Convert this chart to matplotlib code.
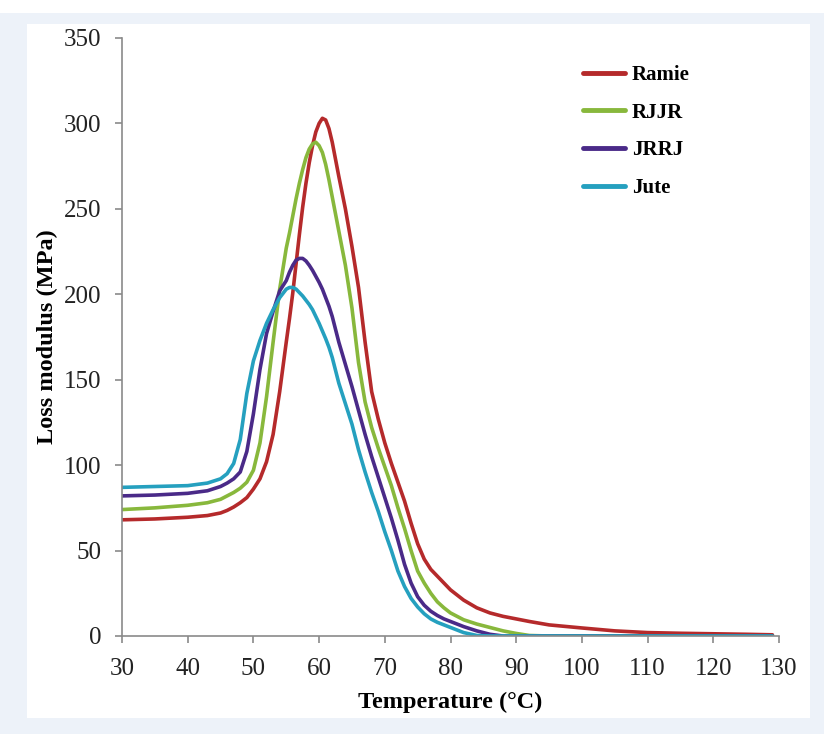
import matplotlib
matplotlib.use("Agg")
import matplotlib.pyplot as plt
from matplotlib.patches import Rectangle

plt.rcParams['font.family'] = ['Liberation Serif', 'DejaVu Serif']

temp = [30, 35, 40, 43, 45, 46, 47, 48, 49, 50, 51, 52, 53, 54, 55,
        55.5, 56, 56.5, 57, 57.5, 58, 58.5, 59, 59.5, 60, 60.5, 61, 61.5, 62,
        63, 64, 65, 66, 67, 68, 69, 70, 71, 72, 73, 74, 75, 76, 77, 78, 79, 80,
        82, 84, 86, 88, 90, 92, 95,
        100, 105, 110, 115, 120, 125, 129]

ramie = [68, 68.5, 69.5, 70.5, 72, 73.5, 75.5, 78, 81, 86, 92, 102, 118, 143, 172,
         186, 201, 218, 235, 251, 265, 277, 287, 295, 300, 303, 302, 297, 289,
         269, 250, 228, 204, 172, 143, 127, 113, 101, 90, 79, 66, 54, 45, 39, 35, 31, 27,
         21, 16.5, 13.5, 11.5, 10, 8.5, 6.5,
         4.7, 3, 2, 1.6, 1.3, 1, 0.7]

rjjr = [74, 75, 76.5, 78, 80, 82, 84, 86.5, 90, 97, 113, 140, 172, 203, 227,
        236, 246, 256, 265, 273, 280, 285, 288, 289, 287, 283, 276, 267, 257,
        237, 217, 192, 160, 137, 122, 110, 99, 88, 75, 63, 50, 38, 31, 25, 20, 16.5, 13.5,
        9.5, 7, 5, 3, 1.5, 0.3, 0,
        0, 0, 0, 0, 0, 0, 0]

jrrj = [82, 82.5, 83.5, 85, 87.5, 89.5, 92, 96, 108, 130, 156, 177, 190, 202, 208,
        213, 217, 220, 221, 221, 219.5, 217, 214, 210.5, 207, 203, 198, 193, 187,
        172, 159, 146, 132, 118, 105, 93, 81, 69, 56, 42, 31, 23, 18, 14.5, 12, 10, 8.5,
        5.5, 3, 1, 0, 0, 0, 0,
        0, 0, 0, 0, 0, 0, 0]

jute = [87, 87.5, 88, 89.5, 92, 95, 101, 115, 142, 161, 173, 183, 191, 198, 203,
        204, 204, 203, 201, 199, 196.5, 194, 191, 187, 183, 178.5, 174, 169, 163,
        148, 136, 124, 109, 96, 84, 73, 61, 50, 38, 29, 22, 17, 13, 10, 8, 6.5, 5,
        2, 0.3, 0, 0, 0, 0, 0,
        0, 0, 0, 0, 0, 0, 0]

names = ['Ramie', 'RJJR', 'JRRJ', 'Jute']
colors = ['#b52a2b', '#88b83c', '#4a2a88', '#25a0bf']

fig = plt.figure(figsize=(8.24, 7.34), dpi=100, facecolor='#edf2f9')
fig.patches.append(Rectangle((0, 1 - 13/734), 1, 13/734, transform=fig.transFigure,
                             facecolor='white', edgecolor='none', zorder=-2))
fig.patches.append(Rectangle((27/824, 16/734), (810-27)/824, (710-16)/734, transform=fig.transFigure,
                             facecolor='white', edgecolor='none', zorder=-1))

ax = fig.add_axes([122/824, 98/734, 657/824, 598/734])
ax.set_facecolor('none')

for vals, name, c in zip([ramie, rjjr, jrrj, jute], names, colors):
    ax.plot(temp, vals, color=c, lw=2.6, label=name,
            solid_capstyle='round', solid_joinstyle='round')

ax.set_xlim(30, 130)
ax.set_ylim(0, 350)
ax.set_xticks(range(30, 131, 10))
ax.set_yticks(range(0, 351, 50))

for s in ['top', 'right']:
    ax.spines[s].set_visible(False)
for s in ['left', 'bottom']:
    ax.spines[s].set_color('#8a8a8a')
    ax.spines[s].set_linewidth(1.2)
ax.tick_params(direction='out', length=5, width=1.2, color='#8a8a8a',
               labelsize=18, labelcolor='#222222')
ax.tick_params(axis='x', pad=11)
ax.tick_params(axis='y', pad=10)

ax.set_xlabel('Temperature (°C)', fontsize=17.5, fontweight='bold', labelpad=8)
ax.set_ylabel('Loss modulus (MPa)', fontsize=17.5, fontweight='bold', labelpad=4)

leg = ax.legend(loc='upper left', bbox_to_anchor=(0.7017, 0.955), frameon=False,
                borderaxespad=0, borderpad=0, handlelength=2.0, handletextpad=0.35,
                labelspacing=0.85, prop={'size': 15, 'weight': 'bold'})
for line in leg.get_lines():
    line.set_linewidth(3.5)

fig.savefig('out.png', dpi=100, facecolor=fig.get_facecolor())
